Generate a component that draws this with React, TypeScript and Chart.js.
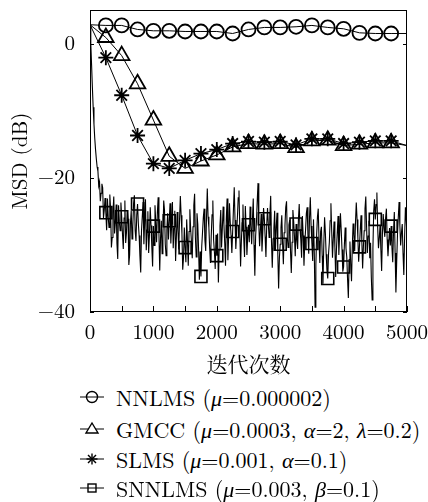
import React, { useEffect, useRef } from "react";
import { Chart, registerables } from "chart.js";

Chart.register(...registerables);

// ---- data ----
// NNLMS / GMCC / SLMS sampled every 250 iterations (0..5000)
const nnlms = [2.8, 2.7, 2.7, 2.1, 1.9, 1.9, 1.8, 1.8, 1.8, 1.5, 2.1, 2.4, 2.4, 2.5, 2.7, 2.4, 2.2, 1.6, 1.5, 1.5, 1.5];
const gmcc = [2.8, 0.9, -1.8, -6.0, -11.4, -16.8, -18.6, -17.5, -16.6, -15.4, -14.9, -15.0, -14.9, -15.5, -14.5, -14.4, -15.2, -15.0, -14.8, -14.8, -15.2];
const slms = [2.8, -2.1, -7.7, -13.7, -17.9, -18.6, -17.4, -16.4, -15.8, -14.9, -14.6, -14.7, -14.6, -15.1, -14.2, -14.2, -14.9, -14.7, -14.5, -14.5, -15.2];
// SNNLMS sampled every 12.5 iterations (0..5000), one row = 250 iterations
const snnlms = [
  2.8, 0.0, -3.2, -6.5, -9.5, -12.0, -14.1, -15.8, -17.2, -18.4, -19.0, -21.2, -20.6, -23.5, -22.3, -20.9, -21.5, -26.0, -24.8, -23.0,
  -25.2, -27.8, -23.1, -25.9, -27.4, -22.5, -24.6, -30.4, -28.9, -25.1, -22.8, -28.3, -26.7, -24.0, -29.8, -32.1, -24.1, -26.5, -27.9, -23.7,
  -25.8, -28.4, -30.6, -26.0, -23.4, -29.7, -28.2, -24.8, -26.1, -33.0, -31.5, -26.9, -24.9, -29.1, -27.3, -23.8, -22.6, -27.9, -29.4, -25.5,
  -23.9, -26.8, -28.6, -31.7, -34.1, -27.9, -25.7, -23.6, -29.9, -26.4, -23.2, -30.8, -27.8, -25.0, -31.2, -28.5, -24.4, -27.1, -30.3, -33.2,
  -27.2, -30.1, -24.1, -26.7, -29.6, -25.2, -22.9, -28.4, -33.8, -29.0, -26.4, -31.3, -28.7, -23.4, -24.8, -29.9, -31.6, -27.7, -25.3, -29.2,
  -26.4, -23.8, -29.8, -27.0, -23.6, -30.5, -27.5, -24.9, -32.4, -28.8, -25.1, -27.9, -30.7, -26.2, -22.7, -25.6, -28.3, -33.7, -31.9, -27.4,
  -30.4, -32.6, -26.2, -29.4, -33.1, -28.0, -24.7, -27.6, -29.5, -32.0, -27.3, -24.1, -22.4, -28.9, -31.8, -25.3, -26.9, -30.6, -35.2, -31.0,
  -34.7, -30.2, -28.1, -25.9, -24.6, -29.3, -30.9, -26.0, -21.6, -25.8, -27.4, -30.5, -32.7, -28.6, -25.5, -23.4, -29.3, -31.1, -33.6, -28.5,
  -31.6, -28.3, -35.6, -30.7, -27.2, -24.8, -30.4, -27.5, -24.3, -27.0, -29.7, -33.1, -26.1, -23.1, -32.3, -28.4, -23.8, -26.7, -28.6, -31.2,
  -28.0, -24.7, -21.4, -26.3, -30.6, -28.1, -25.9, -23.0, -21.9, -27.6, -33.2, -29.4, -26.7, -24.0, -29.1, -31.8, -24.2, -27.3, -31.5, -28.8,
  -27.0, -29.6, -24.3, -27.2, -29.9, -26.1, -23.1, -30.0, -34.6, -28.7, -26.6, -23.5, -20.8, -26.9, -30.2, -27.8, -25.4, -31.0, -28.3, -24.5,
  -26.1, -28.8, -31.8, -27.0, -24.5, -26.9, -28.9, -25.4, -22.7, -29.5, -33.4, -29.1, -27.6, -24.9, -30.8, -27.3, -25.2, -31.4, -36.5, -31.9,
  -29.9, -27.4, -25.6, -29.8, -32.9, -28.2, -27.1, -24.4, -23.5, -28.9, -30.4, -27.0, -26.3, -30.9, -34.2, -29.6, -24.8, -26.5, -28.7, -31.7,
  -26.9, -29.3, -30.6, -26.2, -23.9, -27.7, -29.2, -31.9, -25.7, -28.6, -33.1, -29.7, -27.8, -25.3, -24.4, -28.5, -31.3, -26.0, -22.9, -27.2,
  -29.8, -32.4, -26.2, -31.1, -39.3, -33.0, -28.4, -25.8, -24.6, -29.4, -32.7, -28.0, -27.3, -31.6, -35.8, -29.9, -25.9, -28.2, -31.4, -33.8,
  -35.0, -31.3, -29.6, -26.4, -23.8, -28.0, -31.9, -29.1, -26.5, -30.3, -34.8, -30.6, -28.2, -25.7, -31.5, -28.4, -25.3, -27.8, -30.7, -34.0,
  -33.3, -29.9, -27.4, -30.5, -31.8, -35.1, -37.9, -32.2, -29.5, -32.8, -35.4, -30.1, -26.8, -28.5, -30.9, -26.6, -23.7, -26.2, -28.9, -32.5,
  -30.3, -27.8, -25.6, -29.4, -33.5, -30.2, -27.9, -24.6, -22.8, -27.3, -31.2, -28.7, -26.4, -32.0, -29.7, -34.9, -38.2, -30.5, -24.9, -23.2,
  -26.2, -24.0, -22.2, -27.4, -30.5, -29.0, -27.1, -30.6, -33.9, -28.3, -25.4, -27.6, -28.8, -26.0, -24.6, -29.2, -31.7, -29.6, -27.5, -30.1,
  -27.2, -30.4, -32.6, -28.0, -25.1, -31.2, -37.1, -32.5, -28.4, -25.9, -23.6, -27.1, -30.1, -28.2, -26.9, -31.3, -34.5, -28.7, -24.4, -26.3,
  -28.6,
];

const mainStep = 250;
const snnStep = 12.5;
const snnMarkerEvery = 20;
const xTickValues = [0, 500, 1000, 1500, 2000, 2500, 3000, 3500, 4000, 4500, 5000];
const xTickLabels = ["0", "", "1000", "", "2000", "", "3000", "", "4000", "", "5000"];
const yTickValues = [-40, -20, 0];
const yTickLabels = ["\u221240", "\u221220", "0"];
const xTitle = "迭代次数";
const yTitle = "MSD (dB)";

const FONT = "'Latin Modern Roman', 'Liberation Serif', serif";
const CJK_FONT = "'Noto Serif CJK SC', 'Noto Sans CJK SC', serif";

const framePlugin = {
  id: "frame",
  afterDatasetsDraw(chart: any) {
    const { ctx, chartArea: a, scales } = chart;
    const x = scales.x;
    const y = scales.y;
    ctx.save();
    ctx.strokeStyle = "#000";
    ctx.lineWidth = 1;
    ctx.strokeRect(a.left + 0.5, a.top + 0.5, a.right - a.left - 1, a.bottom - a.top - 1);
    ctx.beginPath();
    xTickValues.forEach((v) => {
      const px = Math.round(x.getPixelForValue(v)) + 0.5;
      ctx.moveTo(px, a.bottom);
      ctx.lineTo(px, a.bottom - 6);
    });
    yTickValues.forEach((v) => {
      const py = Math.round(y.getPixelForValue(v)) + 0.5;
      ctx.moveTo(a.left, py);
      ctx.lineTo(a.left + 4, py);
      ctx.moveTo(a.right, py);
      ctx.lineTo(a.right - 4, py);
    });
    ctx.stroke();
    ctx.restore();
  },
};

function markerRadii(n: number, every: number, r: number) {
  return Array.from({ length: n }, (_, i) => (i > 0 && i < n - 1 && i % every === 0 ? r : 0));
}

function LegendIcon({ kind }: { kind: string }) {
  let marker: any = null;
  if (kind === "circle") marker = <circle cx={12} cy={10} r={5.5} fill="none" stroke="#000" strokeWidth={1.4} />;
  if (kind === "triangle")
    marker = <polygon points="12,4 18,14 6,14" fill="white" stroke="#000" strokeWidth={1.4} />;
  if (kind === "star")
    marker = (
      <g stroke="#000" strokeWidth={1.4}>
        <line x1={12} y1={4.5} x2={12} y2={15.5} />
        <line x1={6.5} y1={10} x2={17.5} y2={10} />
        <line x1={8} y1={6} x2={16} y2={14} />
        <line x1={16} y1={6} x2={8} y2={14} />
      </g>
    );
  if (kind === "rect") marker = <rect x={8} y={6} width={8} height={8} fill="none" stroke="#000" strokeWidth={1.4} />;
  return (
    <svg width={24} height={20} style={{ position: "absolute", left: 80, top: 2 }}>
      <line x1={0} y1={10} x2={24} y2={10} stroke="#000" strokeWidth={1} />
      {marker}
    </svg>
  );
}

const I = ({ children }: any) => <span style={{ fontStyle: "italic" }}>{children}</span>;

const legendRows: { kind: string; cy: number; label: any }[] = [
  { kind: "circle", cy: 397, label: <>NNLMS (<I>μ</I>=0.000002)</> },
  { kind: "triangle", cy: 429, label: <>GMCC (<I>μ</I>=0.0003, <I>α</I>=2, <I>λ</I>=0.2)</> },
  { kind: "star", cy: 459, label: <>SLMS (<I>μ</I>=0.001, <I>α</I>=0.1)</> },
  { kind: "rect", cy: 488, label: <>SNNLMS (<I>μ</I>=0.003, <I>β</I>=0.1)</> },
];

export default function App() {
  const ref = useRef<HTMLCanvasElement | null>(null);

  useEffect(() => {
    if (!ref.current) return;
    const mk = (vals: number[], step: number) => vals.map((v, i) => ({ x: i * step, y: v }));
    const chart = new Chart(ref.current, {
      type: "line",
      data: {
        datasets: [
          {
            label: "NNLMS",
            data: mk(nnlms, mainStep),
            borderColor: "#000",
            borderWidth: 1,
            pointStyle: "circle",
            pointRadius: markerRadii(nnlms.length, 1, 7),
            pointBorderWidth: 1.8,
            pointBorderColor: "#000",
            pointBackgroundColor: "rgba(0,0,0,0)",
          },
          {
            label: "GMCC",
            data: mk(gmcc, mainStep),
            borderColor: "#000",
            borderWidth: 1,
            pointStyle: "triangle",
            pointRadius: markerRadii(gmcc.length, 1, 9),
            pointBorderWidth: 1.8,
            pointBorderColor: "#000",
            pointBackgroundColor: "rgba(0,0,0,0)",
          },
          {
            label: "SLMS",
            data: mk(slms, mainStep),
            borderColor: "#000",
            borderWidth: 1,
            pointStyle: "star",
            pointRadius: markerRadii(slms.length, 1, 7.5),
            pointBorderWidth: 1.8,
            pointBorderColor: "#000",
            pointBackgroundColor: "rgba(0,0,0,0)",
          },
          {
            label: "SNNLMS",
            data: mk(snnlms, snnStep),
            borderColor: "#000",
            borderWidth: 1.1,
            pointStyle: "rect",
            pointRadius: markerRadii(snnlms.length, snnMarkerEvery, 8.5),
            pointBorderWidth: 1.6,
            pointBorderColor: "#000",
            pointBackgroundColor: "rgba(0,0,0,0)",
          },
        ],
      },
      options: {
        animation: false,
        responsive: false,
        maintainAspectRatio: false,
        layout: { padding: { left: 0, right: 21, top: 10, bottom: 3 } },
        plugins: { legend: { display: false }, tooltip: { enabled: false } },
        elements: { line: { tension: 0 } },
        scales: {
          x: {
            type: "linear",
            min: 0,
            max: 5000,
            afterBuildTicks: (s: any) => {
              s.ticks = xTickValues.map((v) => ({ value: v }));
            },
            afterFit: (s: any) => {
              s.height = 65;
              s.paddingLeft = 0;
              s.paddingRight = 0;
            },
            grid: { display: false, drawTicks: false },
            border: { display: false },
            ticks: {
              autoSkip: false,
              maxRotation: 0,
              padding: 8,
              color: "#000",
              font: { family: FONT, size: 21 },
              callback: (v: any) => {
                const i = xTickValues.indexOf(Number(v));
                return i >= 0 ? xTickLabels[i] : "";
              },
            },
            title: {
              display: true,
              text: xTitle,
              color: "#000",
              padding: { top: 0, bottom: 0 },
              font: { family: CJK_FONT, size: 21 },
            },
          },
          y: {
            type: "linear",
            min: -40,
            max: 5,
            afterBuildTicks: (s: any) => {
              s.ticks = yTickValues.map((v) => ({ value: v }));
            },
            afterFit: (s: any) => {
              s.width = 90;
              s.paddingTop = 0;
              s.paddingBottom = 0;
            },
            grid: { display: false, drawTicks: false },
            border: { display: false },
            ticks: {
              padding: 15,
              color: "#000",
              font: { family: FONT, size: 21 },
              callback: (v: any) => {
                const i = yTickValues.indexOf(Number(v));
                return i >= 0 ? yTickLabels[i] : "";
              },
            },
            title: {
              display: true,
              text: yTitle,
              color: "#000",
              padding: { top: 8, bottom: 0 },
              font: { family: FONT, size: 21 },
            },
          },
        },
      },
      plugins: [framePlugin],
    } as any);
    return () => chart.destroy();
  }, []);

  return (
    <div style={{ position: "fixed", left: 0, top: 0, width: 428, height: 502, background: "#fff" }}>
      <canvas ref={ref} width={428} height={380} style={{ position: "absolute", left: 0, top: 0, width: 428, height: 380 }} />
      {legendRows.map((r, i) => (
        <div
          key={i}
          style={{
            position: "absolute",
            left: 0,
            top: r.cy - 12,
            height: 24,
            width: 428,
            fontFamily: FONT,
            fontSize: 22,
            lineHeight: "24px",
            color: "#000",
            whiteSpace: "nowrap",
          }}
        >
          <LegendIcon kind={r.kind} />
          <span style={{ position: "absolute", left: 116, top: 0 }}>{r.label}</span>
        </div>
      ))}
    </div>
  );
}
